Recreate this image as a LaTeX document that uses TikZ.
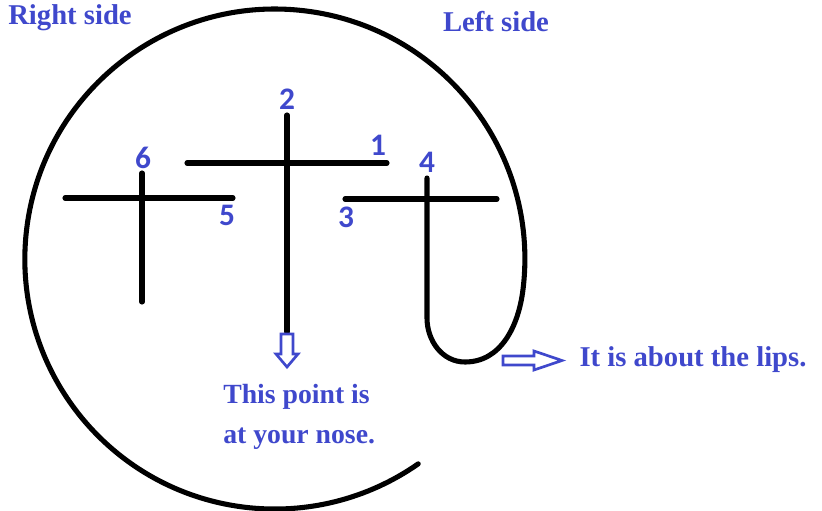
\documentclass[tikz,border=0pt]{standalone}
\usepackage{fontspec}
\setmainfont{Liberation Serif}
\newfontfamily\digitfont{Carlito}
\usetikzlibrary{positioning}
\definecolor{paintblue}{RGB}{63,72,204}

\begin{document}
\begin{tikzpicture}[x=0.75pt,y=0.75pt,
  stroke/.style={line width=3.8pt,line cap=round},
  note/.style={text=paintblue,font=\fontsize{21.5}{26}\selectfont\bfseries,inner sep=0pt},
  num/.style={text=paintblue,font=\fontsize{23.5}{26}\digitfont\bfseries,inner sep=0pt},
  hollow/.style={draw=paintblue,line width=2pt,fill=white,line join=miter}]
  \useasboundingbox (0,0) rectangle (822,-511);
  % head outline: down the stroke of 4, round the lips, then once round the head
  \draw[stroke] (427,-178) -- (427,-318) to[out=-90,in=180] (465,-362)
    to[out=0,in=-97] (523,-289.5) arc[start angle=-7,end angle=305,radius=250];
  % the strokes (x1/y1/x2/y2, y measured downwards)
  \foreach \xa/\ya/\xb/\yb in {187/163/387/163, 287/115/287/332, 65/198/233/198,
                               142/173/142/302, 345/199/497/199}
    \draw[stroke] (\xa,-\ya) -- (\xb,-\yb);
  % stroke numbers
  \foreach \n/\x/\y in {1/378/145, 2/287/99, 3/346/217, 4/427/162, 5/227/215, 6/143/158}
    \node[num] (n\n) at (\x,-\y) {\n};
  % hollow arrows
  \draw[hollow] (281,-334) -- (293,-334) -- (293,-354) -- (298,-354) -- (287,-367)
    -- (276,-354) -- (281,-354) -- cycle;
  \draw[hollow] (503,-356) -- (534,-356) -- (534,-351) -- (562,-360.5) -- (534,-370)
    -- (534,-365) -- (503,-365) -- cycle;
  % notes
  \node[note] (rightside) at (70,-18) {Right side};
  \node[note] (leftside) at (496,-22) {Left side};
  \node[note,font=\fontsize{20.8}{30}\selectfont\bfseries,align=left,anchor=north west]
    (nose) at (223,-384) {This point is\\at your nose.};
  \node[note] (lips) at (693,-360) {It is about the lips.};
\end{tikzpicture}
\end{document}
